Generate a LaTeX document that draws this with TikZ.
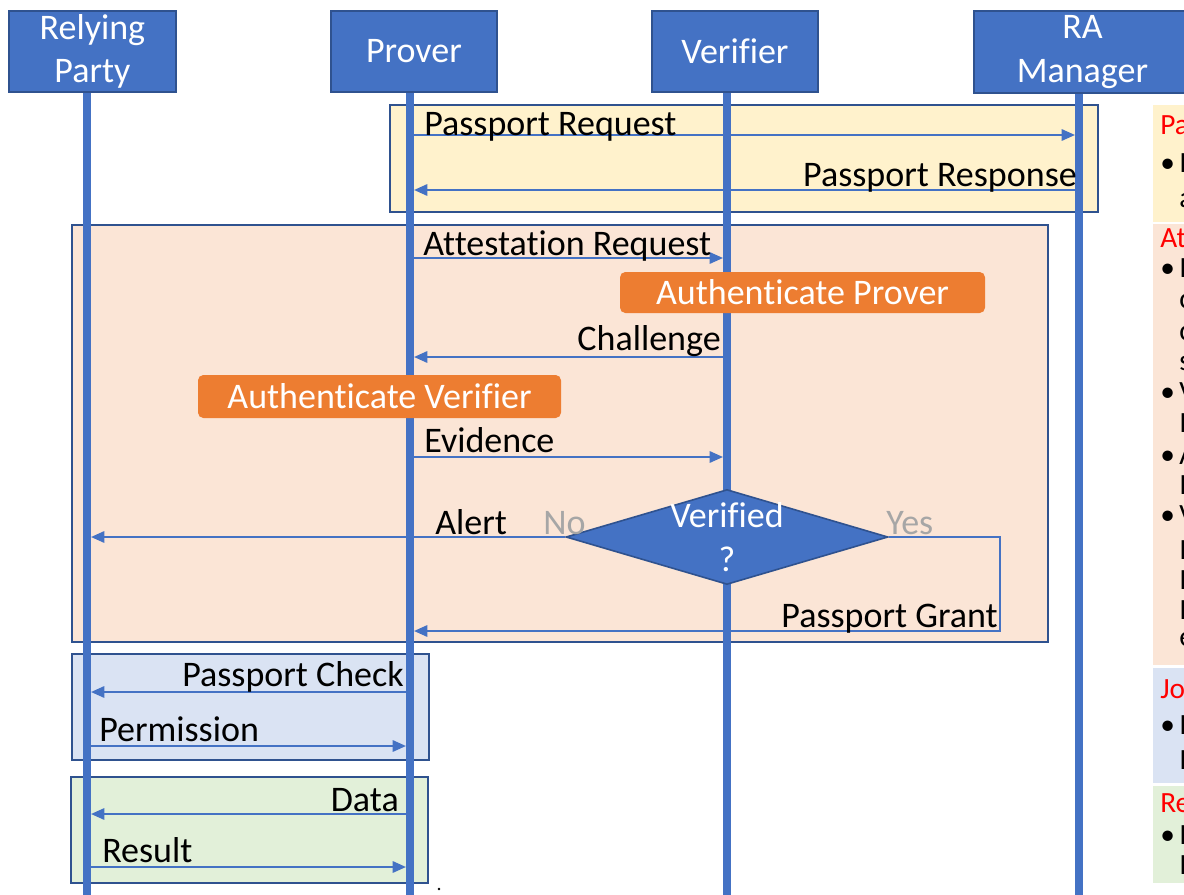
\documentclass[tikz,border=0pt]{standalone}
\usepackage{fontspec}
\setmainfont{Carlito}[Ligatures={NoCommon}]
\usetikzlibrary{arrows.meta,shapes.geometric}
\newdimen\pxu \pxu=0.75pt
\definecolor{lifeblue}{HTML}{4472C4}
\definecolor{edgeblue}{HTML}{2F528F}
\definecolor{yellowbg}{HTML}{FFF2CC}
\definecolor{peachbg}{HTML}{FBE5D6}
\definecolor{bluebg}{HTML}{DAE3F3}
\definecolor{greenbg}{HTML}{E2F0D9}
\definecolor{actorange}{HTML}{ED7D31}
\definecolor{notegray}{HTML}{A6A6A6}
\definecolor{titlered}{HTML}{FF0000}

\tikzset{
  bigfont/.style={font=\fontsize{27}{32.5}\selectfont},
  actor/.style={draw=edgeblue, line width=1.4pt, fill=lifeblue, text=white,
    bigfont, align=center, inner sep=0pt, anchor=north west},
  lifeline/.style={lifeblue, line width=5.5pt},
  msg/.style={lifeblue, line width=1.6pt, -{Triangle[length=10pt,width=8.5pt]}},
  lbl/.style={bigfont, inner sep=0pt},
  phase/.style={draw=edgeblue, line width=1.2pt, inner sep=0pt, anchor=north west},
  activity/.style={fill=actorange, rounded corners=4pt, text=white, bigfont,
    inner sep=0pt},
  branch/.style={lbl, text=notegray},
  notefont/.style={font=\fontsize{22}{26}\selectfont, inner sep=0pt, anchor=base west},
  notetitle/.style={notefont, text=titlered},
  notepanel/.style={inner sep=0pt, anchor=north west},
}

\begin{document}
\begin{tikzpicture}[x=0.75pt, y=-0.75pt]
\useasboundingbox (0,0) rectangle (1184,895);
\fill[white] (0,0) rectangle (1184,895);
\clip (0,0) rectangle (1184,895);

% ---- phase frames ----
\node[phase, fill=yellowbg, minimum width=708\pxu, minimum height=107\pxu] (passportPhase) at (389,104) {};
\node[phase, fill=peachbg, minimum width=976\pxu, minimum height=417\pxu] (attestPhase) at (71,224) {};
\node[phase, fill=bluebg, minimum width=357\pxu, minimum height=106\pxu] (checkPhase) at (71,653) {};
\node[phase, fill=greenbg, minimum width=357\pxu, minimum height=106\pxu] (dataPhase) at (70,776) {};

% ---- participants ----
\node[actor, minimum width=167\pxu, minimum height=81\pxu] (rp) at (8,10) {Relying\\Party};
\node[actor, minimum width=166\pxu, minimum height=81\pxu] (prover) at (330,10) {Prover};
\node[actor, minimum width=166\pxu, minimum height=81\pxu] (verifier) at (651,10) {Verifier};
\node[actor, minimum width=217\pxu, minimum height=82\pxu] (ra) at (973,10) {RA\\Manager};

% ---- lifelines ----
\coordinate (rpEnd) at (87,895);
\coordinate (proverEnd) at (410,895);
\coordinate (verifierEnd) at (727,895);
\coordinate (raEnd) at (1079,895);
\draw[lifeline] (rpEnd |- rp.south) -- (rpEnd);
\draw[lifeline] (proverEnd |- prover.south) -- (proverEnd);
\draw[lifeline] (verifierEnd |- verifier.south) -- (verifierEnd);
\draw[lifeline] (raEnd |- ra.south) -- (raEnd);

% ---- message end points ----
\coordinate (reqP) at (414,135);   \coordinate (reqR) at (1075,135);
\coordinate (resR) at (1075,190);  \coordinate (resP) at (414,190);
\coordinate (attP) at (414,258);   \coordinate (attV) at (723,258);
\coordinate (chaV) at (723,357);   \coordinate (chaP) at (414,357);
\coordinate (eviP) at (414,457);   \coordinate (eviV) at (723,457);
\coordinate (alertRP) at (91,537);
\coordinate (grantBend) at (1000,631);
\coordinate (grantP) at (414,631);
\coordinate (chkP) at (406,692);   \coordinate (chkRP) at (91,692);
\coordinate (perRP) at (91,746);   \coordinate (perP) at (406,746);
\coordinate (datP) at (406,814);   \coordinate (datRP) at (91,814);
\coordinate (resRP) at (91,867);   \coordinate (resltP) at (406,867);

% ---- passport phase ----
\draw[msg] (reqP) -- (reqR);
\node[lbl, anchor=base west] (reqLbl) at (424,136) {Passport Request};
\draw[msg] (resR) -- (resP);
\node[lbl, anchor=base east] (resLbl) at (1077,186) {Passport Response};

% ---- attestation phase ----
\draw[msg] (attP) -- (attV);
\node[lbl, anchor=base west] (attLbl) at (423,255) {Attestation Request};
\node[activity, minimum width=365\pxu, minimum height=41\pxu] (authProver) at (802.5,292.5) {Authenticate Prover};
\draw[msg] (chaV) -- (chaP);
\node[lbl, anchor=base east] (chaLbl) at (721,350) {Challenge};
\node[activity, minimum width=363\pxu, minimum height=43\pxu] (authVerifier) at (379.5,396.5) {Authenticate Verifier};
\draw[msg] (eviP) -- (eviV);
\node[lbl, anchor=base west] (eviLbl) at (424,452) {Evidence};

\node[diamond, fill=lifeblue, draw=edgeblue, line width=1.2pt, inner sep=0pt,
      minimum width=322\pxu, minimum height=95\pxu] (check) at (727,537) {};
\node[lbl, text=white, anchor=base] (checkTxtA) at (727,527) {Verified};
\node[lbl, text=white, anchor=base] (checkTxtB) at (727,571) {?};

\draw[msg] (check.west) -- (alertRP);
\node[lbl, anchor=base west] (alertLbl) at (435,534) {Alert};
\node[branch, anchor=base west] (noLbl) at (543,534) {No};
\node[branch, anchor=base west] (yesLbl) at (886,534) {Yes};

\draw[msg] (check.east) -| (grantBend) -- (grantP);
\node[lbl, anchor=base east] (grantLbl) at (998,627) {Passport Grant};

% ---- passport check phase ----
\draw[msg] (chkP) -- (chkRP);
\node[lbl, anchor=base east] (chkLbl) at (404,686) {Passport Check};
\draw[msg] (perRP) -- (perP);
\node[lbl, anchor=base west] (perLbl) at (99,741) {Permission};

% ---- data phase ----
\draw[msg] (datP) -- (datRP);
\node[lbl, anchor=base east] (datLbl) at (399,811) {Data};
\draw[msg] (resRP) -- (resltP);
\node[lbl, anchor=base west] (resltLbl) at (102,862) {Result};

\fill (439,889) circle (1.1pt);

% ---- side notes ----
\node[notepanel, fill=yellowbg, minimum width=40\pxu, minimum height=117\pxu] (notePassport) at (1153,105) {};
\node[notepanel, fill=peachbg, minimum width=40\pxu, minimum height=441\pxu] (noteAttest) at (1153,224) {};
\node[notepanel, fill=bluebg, minimum width=40\pxu, minimum height=115\pxu] (noteCheck) at (1153,668) {};
\node[notepanel, fill=greenbg, minimum width=40\pxu, minimum height=97\pxu] (noteData) at (1153,786) {};

\node[notetitle] (ntA) at (1160,135) {Pa};
\node[notefont] (nbA1) at (1160,172) {•};
\node[notefont] (nlA1) at (1179,172) {I};
\node[notefont] (nlA2) at (1179,207) {a};

\node[notetitle] (ntB) at (1160,247) {At};
\node[notefont] (nbB1) at (1160,277) {•};
\node[notefont] (nlB1) at (1179,277) {I};
\node[notefont] (nlB2) at (1179,308) {c};
\node[notefont] (nlB3) at (1179,340) {c};
\node[notefont] (nlB4) at (1179,370) {s};
\node[notefont] (nbB5) at (1160,401) {•};
\node[notefont] (nlB5) at (1179,401) {V};
\node[notefont] (nlB6) at (1179,432) {I};
\node[notefont] (nbB7) at (1160,464) {•};
\node[notefont] (nlB7) at (1179,464) {A};
\node[notefont] (nlB8) at (1179,494) {I};
\node[notefont] (nbB9) at (1160,524) {•};
\node[notefont] (nlB9) at (1179,524) {V};
\node[notefont] (nlB10) at (1179,559) {I};
\node[notefont] (nlB11) at (1179,589) {I};
\node[notefont] (nlB12) at (1179,619) {I};
\node[notefont] (nlB13) at (1179,646) {e};

\node[notetitle] (ntC) at (1160,698) {Jo};
\node[notefont] (nbC1) at (1160,734) {•};
\node[notefont] (nlC1) at (1179,734) {I};
\node[notefont] (nlC2) at (1179,769) {I};

\node[notetitle] (ntD) at (1160,812) {Re};
\node[notefont] (nbD1) at (1160,844) {•};
\node[notefont] (nlD1) at (1179,844) {I};
\node[notefont] (nlD2) at (1179,874) {I};
\end{tikzpicture}
\end{document}
